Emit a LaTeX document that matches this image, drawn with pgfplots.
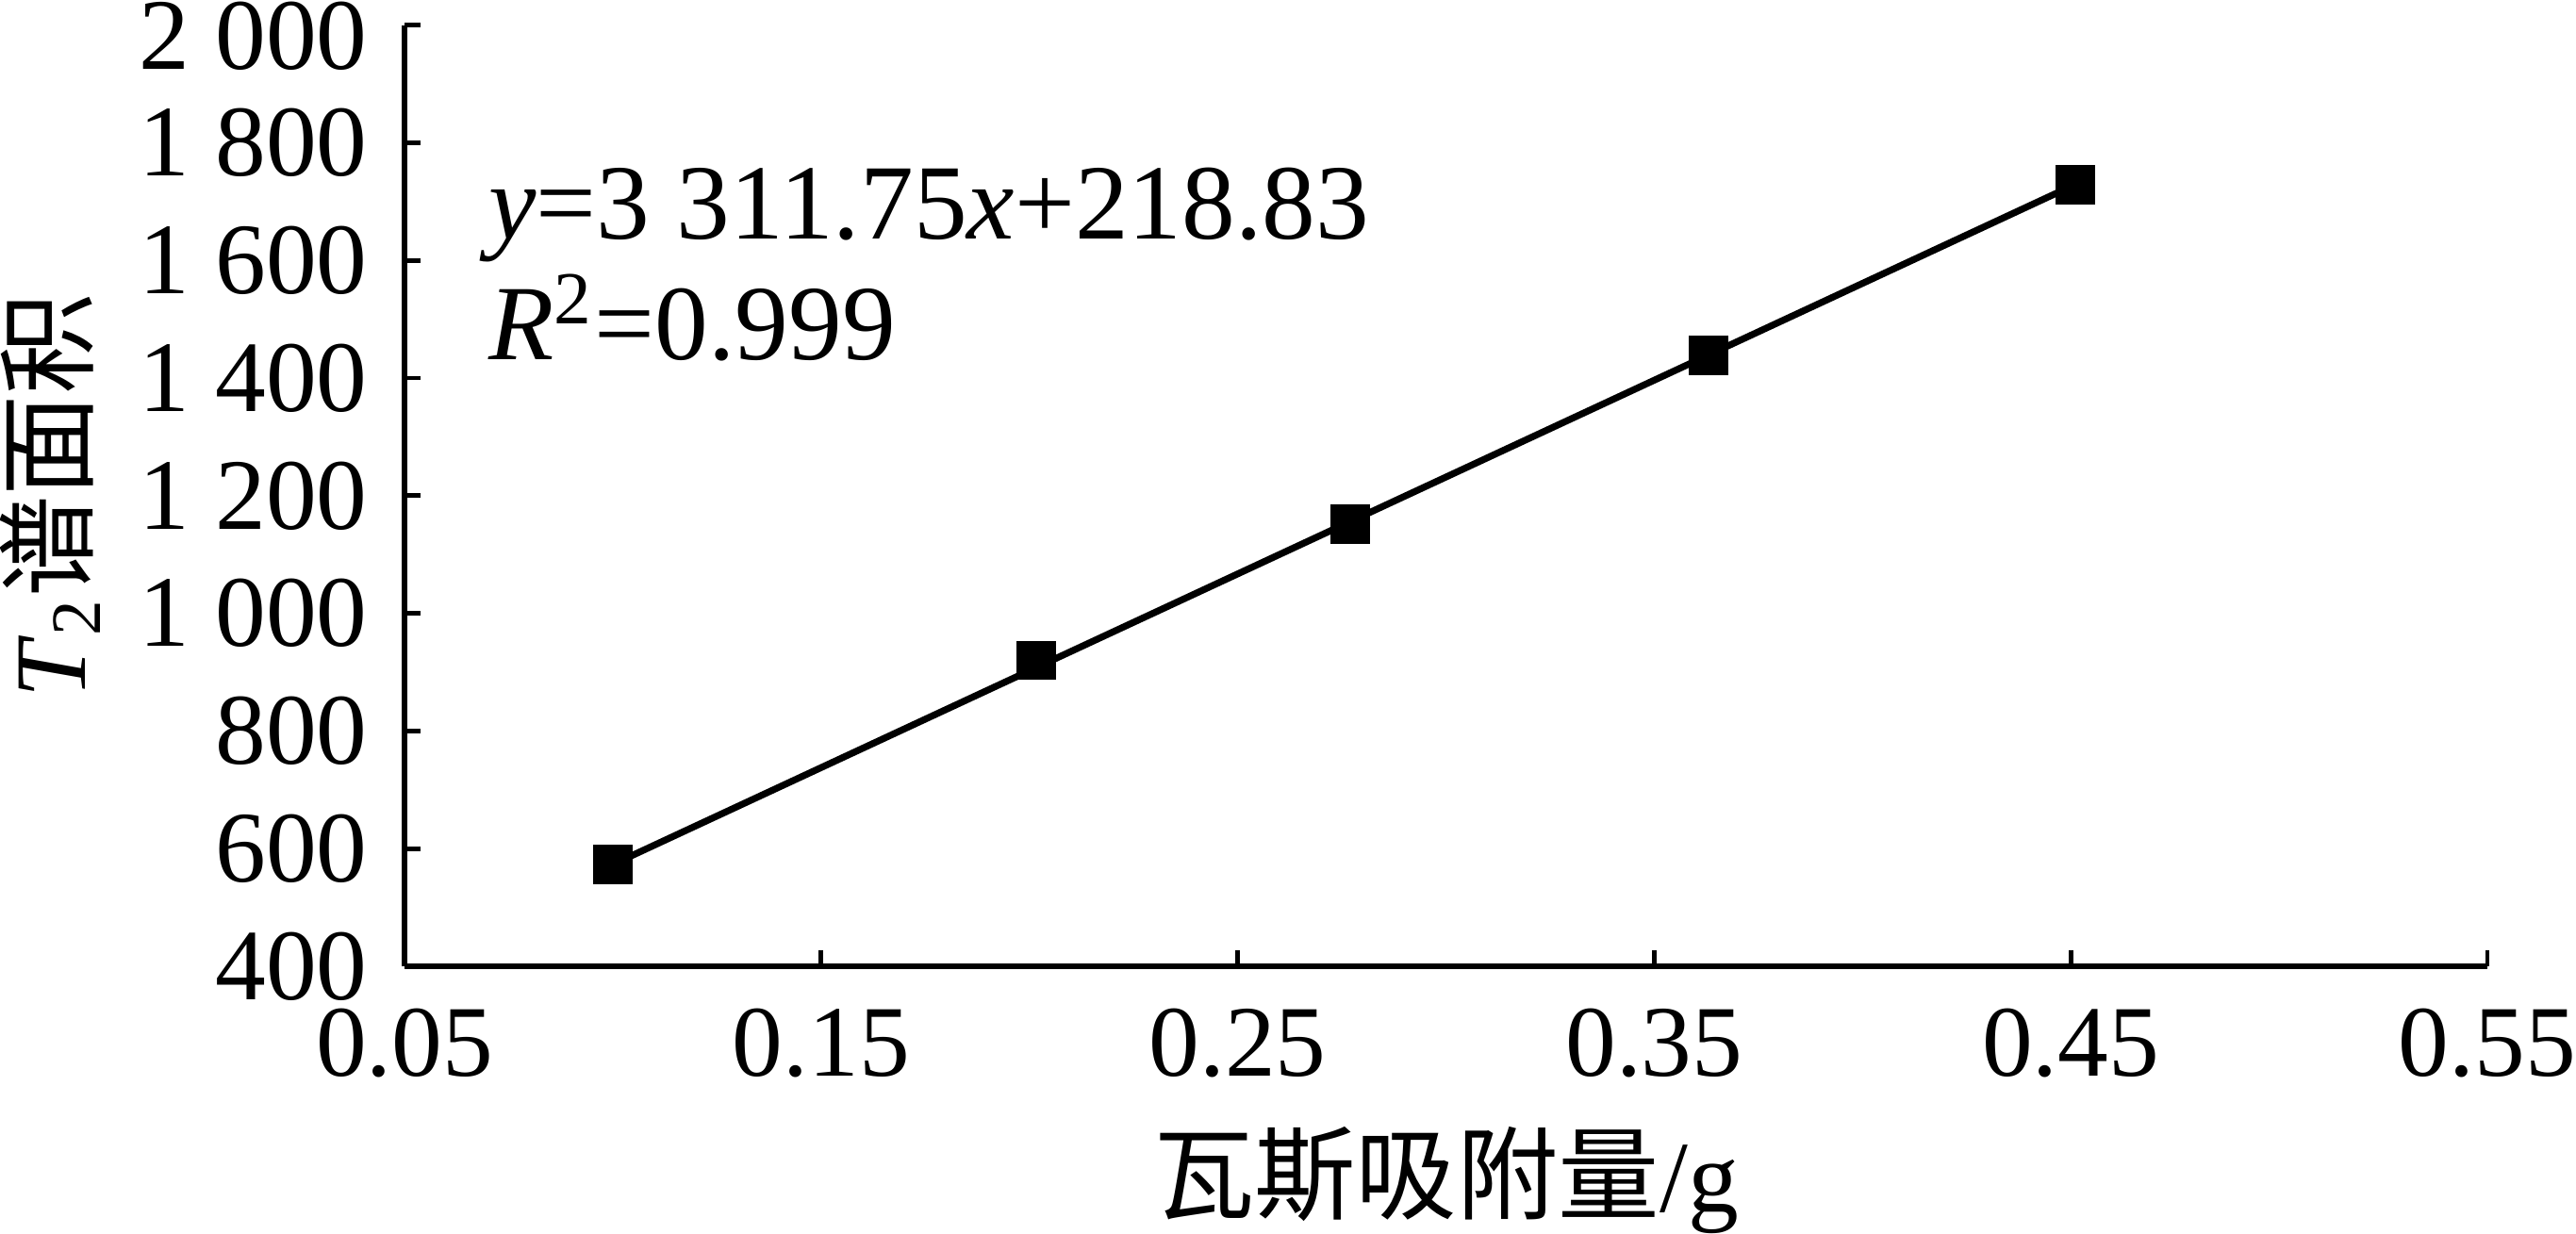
\documentclass[border={0pt 0pt 0pt 0.4pt}]{standalone}
\usepackage{pgfplots}
\pgfplotsset{compat=1.18}
\usepackage{fontspec}
\setmainfont{Liberation Serif}
\newfontfamily\cjk{Noto Sans CJK SC}
\newcommand{\tickfont}{\fontsize{18}{21}\selectfont}
\newcommand{\eqfont}{\fontsize{19}{22}\selectfont}
\begin{document}
\begin{tikzpicture}
\begin{axis}[
  scale only axis, width=370pt, height=167.2pt,
  xmin=0.05, xmax=0.55, ymin=400, ymax=2000,
  axis x line*=bottom, axis y line*=left,
  tick align=inside, major tick length=2.9pt,
  axis line style={line width=1pt, black},
  tick style={line width=0.8pt, black},
  xtick={0.05,0.15,0.25,0.35,0.45,0.55},
  xticklabels={0.05,0.15,0.25,0.35,0.45,0.55},
  ytick={400,600,800,1000,1200,1400,1600,1800,2000},
  yticklabels={400,600,800,1 000,1 200,1 400,1 600,1 800,{\raisebox{-4pt}[\dimexpr\height-4pt\relax][\depth]{2 000}}},
  tick label style={font=\tickfont, inner sep=0pt},
  yticklabel style={xshift=-6.4pt},
  xticklabel style={yshift=-7.3pt},
  xlabel style={font=\tickfont, inner sep=0pt, yshift=-8.6pt},
  ylabel style={font=\tickfont, inner sep=0pt, yshift=6.8pt},
  xlabel={{\cjk 瓦斯吸附量}/g},
  ylabel={\textit{T}\textsubscript{2}{\cjk 谱面积}},
  clip=false,
]
\addplot[black, line width=1.2pt] coordinates {(0.100,573) (0.451,1729)};
\addplot[only marks, mark=square*, mark size=3.3pt, black] coordinates {
  (0.100,573) (0.2016,920) (0.277,1152) (0.363,1438) (0.451,1729)};
\node[anchor=base west, inner sep=0pt, font=\eqfont] at (rel axis cs:0.040,0.773) {\textit{y}=3 311.75\textit{x}+218.83};
\node[anchor=base west, inner sep=0pt, font=\eqfont] at (rel axis cs:0.040,0.645) {\textit{R}\textsuperscript{2}=0.999};
\end{axis}
\end{tikzpicture}
\end{document}
